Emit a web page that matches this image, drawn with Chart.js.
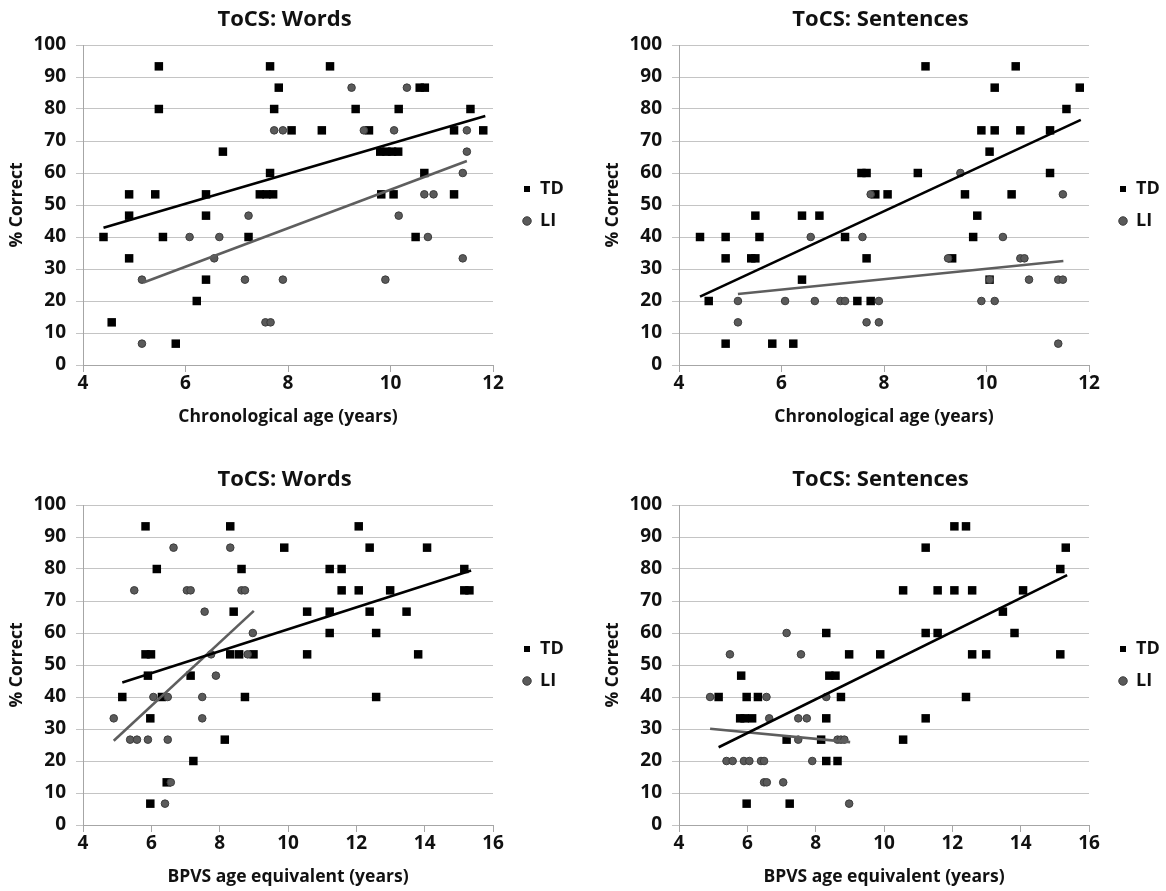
<!DOCTYPE html>
<html>
<head>
<meta charset="utf-8">
<script src="https://cdn.jsdelivr.net/npm/chart.js@4/dist/chart.umd.min.js"></script>
<style>
  body { margin: 0; background: #fff; }
  canvas { position: absolute; }
</style>
</head>
<body>
<canvas id="wordsAge" width="569" height="431" style="left:0;top:0"></canvas>
<canvas id="sentAge" width="569" height="431" style="left:596px;top:0"></canvas>
<canvas id="wordsBpvs" width="569" height="431" style="left:0;top:460px"></canvas>
<canvas id="sentBpvs" width="569" height="431" style="left:596px;top:460px"></canvas>
<script>
// [x, y] pairs
const wordsAgeTD = [
  [5.48,93.33],[7.65,93.33],[8.82,93.33],
  [7.82,86.67],[10.57,86.67],[10.67,86.67],
  [5.48,80],[7.73,80],[9.32,80],[10.16,80],[11.56,80],
  [8.07,73.33],[8.66,73.33],[9.58,73.33],[11.24,73.33],[11.81,73.33],
  [6.73,66.67],[9.8,66.67],[9.92,66.67],[10.03,66.67],[10.15,66.67],
  [7.65,60],[10.66,60],
  [4.9,53.33],[5.41,53.33],[6.4,53.33],[7.45,53.33],[7.58,53.33],[7.71,53.33],[9.82,53.33],[10.06,53.33],[11.24,53.33],
  [4.9,46.67],[6.4,46.67],
  [4.4,40],[5.56,40],[7.23,40],[10.49,40],
  [4.9,33.33],[6.4,26.67],[6.22,20],[4.56,13.33],[5.81,6.67]
];
const wordsAgeLI = [
  [9.24,86.67],[10.32,86.67],
  [7.73,73.33],[7.9,73.33],[9.48,73.33],[10.07,73.33],[11.49,73.33],
  [11.49,66.67],[11.41,60],
  [10.66,53.33],[10.84,53.33],
  [7.23,46.67],[10.16,46.67],
  [6.08,40],[6.66,40],[10.73,40],
  [6.56,33.33],[11.41,33.33],
  [5.15,26.67],[7.16,26.67],[7.9,26.67],[9.9,26.67],
  [7.56,13.33],[7.66,13.33],[5.15,6.67]
];
const wordsAgeFitTD = [[4.4,42.9],[11.85,77.8]];
const wordsAgeFitLI = [[5.18,25.8],[11.49,63.75]];

const sentAgeTD = [
  [8.81,93.33],[10.57,93.33],
  [10.16,86.67],[11.82,86.67],
  [11.56,80],
  [9.9,73.33],[10.16,73.33],[10.66,73.33],[11.24,73.33],
  [10.06,66.67],
  [7.56,60],[7.66,60],[8.66,60],[11.24,60],
  [7.83,53.33],[8.07,53.33],[9.58,53.33],[10.49,53.33],
  [5.49,46.67],[6.4,46.67],[6.74,46.67],[9.82,46.67],
  [4.41,40],[4.91,40],[5.57,40],[7.24,40],[9.74,40],
  [4.91,33.33],[5.41,33.33],[5.49,33.33],[7.66,33.33],[9.33,33.33],
  [6.4,26.67],[10.06,26.67],
  [4.58,20],[7.48,20],[7.74,20],
  [4.91,6.67],[5.82,6.67],[6.23,6.67]
];
const sentAgeLI = [
  [9.49,60],
  [7.74,53.33],[11.49,53.33],
  [6.57,40],[7.58,40],[10.32,40],
  [9.25,33.33],[10.66,33.33],[10.74,33.33],
  [10.06,26.67],[10.83,26.67],[11.4,26.67],[11.49,26.67],
  [5.15,20],[6.07,20],[6.65,20],[7.15,20],[7.24,20],[7.9,20],[9.9,20],[10.16,20],
  [5.15,13.33],[7.66,13.33],[7.9,13.33],
  [11.4,6.67]
];
const sentAgeFitTD = [[4.41,21.35],[11.84,76.6]];
const sentAgeFitLI = [[5.15,22.2],[11.5,32.5]];

const wordsBpvsTD = [
  [5.83,93.33],[8.31,93.33],[12.07,93.33],
  [9.89,86.67],[12.39,86.67],[14.07,86.67],
  [6.16,80],[8.64,80],[11.22,80],[11.57,80],[15.16,80],
  [11.57,73.33],[12.07,73.33],[12.99,73.33],[15.16,73.33],[15.31,73.33],
  [8.41,66.67],[10.56,66.67],[11.22,66.67],[12.39,66.67],[13.47,66.67],
  [11.22,60],[12.58,60],
  [5.83,53.33],[5.99,53.33],[8.31,53.33],[8.57,53.33],[8.99,53.33],[10.56,53.33],[13.81,53.33],
  [5.9,46.67],[7.15,46.67],
  [5.15,40],[6.31,40],[8.74,40],[12.58,40],
  [5.97,33.33],[8.15,26.67],[7.23,20],[6.45,13.33],[5.97,6.67]
];
const wordsBpvsLI = [
  [6.65,86.67],[8.31,86.67],
  [5.5,73.33],[7.04,73.33],[7.15,73.33],[8.64,73.33],[8.74,73.33],
  [7.56,66.67],[8.97,60],
  [7.75,53.33],[8.82,53.33],
  [7.89,46.67],
  [6.06,40],[6.48,40],[7.49,40],
  [4.9,33.33],[7.49,33.33],
  [5.38,26.67],[5.58,26.67],[5.9,26.67],[6.48,26.67],
  [6.57,13.33],[6.4,6.67]
];
const wordsBpvsFitTD = [[5.15,44.5],[15.36,79.5]];
const wordsBpvsFitLI = [[4.9,26.35],[9.0,66.9]];

const sentBpvsTD = [
  [12.06,93.33],[12.4,93.33],
  [11.22,86.67],[15.32,86.67],
  [15.16,80],
  [10.56,73.33],[11.57,73.33],[12.06,73.33],[12.58,73.33],[14.07,73.33],
  [13.48,66.67],
  [8.31,60],[11.22,60],[11.57,60],[13.82,60],
  [8.98,53.33],[9.89,53.33],[12.58,53.33],[12.99,53.33],[15.16,53.33],
  [5.82,46.67],[8.4,46.67],[8.58,46.67],
  [5.16,40],[5.98,40],[6.31,40],[8.74,40],[12.4,40],
  [5.79,33.33],[5.92,33.33],[6.14,33.33],[8.31,33.33],[11.22,33.33],
  [7.15,26.67],[8.16,26.67],[10.56,26.67],
  [8.31,20],[8.64,20],
  [5.98,6.67],[7.24,6.67]
];
const sentBpvsLI = [
  [7.15,60],
  [5.49,53.33],[7.57,53.33],
  [4.91,40],[6.56,40],[8.31,40],
  [6.64,33.33],[7.49,33.33],[7.74,33.33],
  [7.49,26.67],[8.64,26.67],[8.74,26.67],[8.84,26.67],
  [5.39,20],[5.57,20],[5.9,20],[6.06,20],[6.4,20],[6.49,20],[7.9,20],
  [6.49,13.33],[6.57,13.33],[7.05,13.33],
  [8.98,6.67]
];
const sentBpvsFitTD = [[5.16,24.3],[15.36,78.1]];
const sentBpvsFitLI = [[4.91,30.1],[9.01,25.9]];

const seriesNames = ["TD", "LI"];

Chart.defaults.font.family = "'Open Sans', sans-serif";
Chart.defaults.font.weight = "bold";
Chart.defaults.color = "#111";

const pts = arr => arr.map(([x, y]) => ({ x, y }));

function makeChart(id, title, xTitle, xMax, td, li, fitTD, fitLI) {
  new Chart(document.getElementById(id), {
    type: "scatter",
    data: {
      datasets: [
        { label: seriesNames[0], data: pts(td), yAxisID: "y", pointStyle: "rect", pointRadius: 6,
          backgroundColor: "#000", borderColor: "#000", borderWidth: 0, order: 2 },
        { label: seriesNames[1], data: pts(li), yAxisID: "y", pointStyle: "circle", pointRadius: 3.8,
          backgroundColor: "#5a5a5a", borderColor: "#3c3c3c", borderWidth: 1, order: 1 },
        { label: "TD fit", data: pts(fitTD), yAxisID: "y", showLine: true, pointRadius: 0,
          borderColor: "#000", borderWidth: 2.6, order: 0 },
        { label: "LI fit", data: pts(fitLI), yAxisID: "y", showLine: true, pointRadius: 0,
          borderColor: "#5e5e5e", borderWidth: 2.6, order: 0 }
      ]
    },
    options: {
      responsive: false,
      animation: false,
      layout: { padding: 0 },
      plugins: {
        tooltip: { enabled: false },
        title: {
          display: true, text: title, color: "#111",
          font: { size: 22, weight: "bold" },
          padding: { top: 7, bottom: 11.6 }
        },
        legend: {
          position: "right",
          fullSize: false,
          maxWidth: 60,
          labels: {
            usePointStyle: true, boxWidth: 8, boxHeight: 6, padding: 14,
            color: "#111", font: { size: 18, weight: "bold" },
            filter: item => item.datasetIndex < 2,
            sort: (a, b) => a.datasetIndex - b.datasetIndex
          }
        }
      },
      scales: {
        x: {
          type: "linear", min: 4, max: xMax,
          ticks: { stepSize: 2, padding: 0, font: { size: 19 }, color: "#111" },
          grid: { drawOnChartArea: false, tickLength: 7, color: "#a6a6a6" },
          border: { color: "#a6a6a6" },
          title: { display: true, text: xTitle, font: { size: 17.5, weight: "bold" }, color: "#111",
                   padding: { top: 0, bottom: 3 } },
          afterFit: s => { s.height = 66; }
        },
        y: {
          min: 0, max: 100,
          ticks: { stepSize: 10, padding: 10, font: { size: 19 }, color: "#111" },
          grid: { color: "#c4c4c4", tickLength: 7 },
          border: { color: "#a6a6a6" },
          title: { display: true, text: "% Correct", font: { size: 17.5, weight: "bold" }, color: "#111",
                   padding: { top: 7, bottom: 0 } },
          afterFit: s => { s.width = 83; }
        },
        // empty spacer between plot and legend
        gap: {
          type: "linear", position: "right", display: true,
          grid: { display: false }, border: { display: false }, ticks: { display: false },
          afterFit: s => { s.width = 16; }
        }
      }
    }
  });
}

makeChart("wordsAge", "ToCS: Words", "Chronological age (years)", 12,
  wordsAgeTD, wordsAgeLI, wordsAgeFitTD, wordsAgeFitLI);
makeChart("sentAge", "ToCS: Sentences", "Chronological age (years)", 12,
  sentAgeTD, sentAgeLI, sentAgeFitTD, sentAgeFitLI);
makeChart("wordsBpvs", "ToCS: Words", "BPVS age equivalent (years)", 16,
  wordsBpvsTD, wordsBpvsLI, wordsBpvsFitTD, wordsBpvsFitLI);
makeChart("sentBpvs", "ToCS: Sentences", "BPVS age equivalent (years)", 16,
  sentBpvsTD, sentBpvsLI, sentBpvsFitTD, sentBpvsFitLI);
</script>
</body>
</html>
